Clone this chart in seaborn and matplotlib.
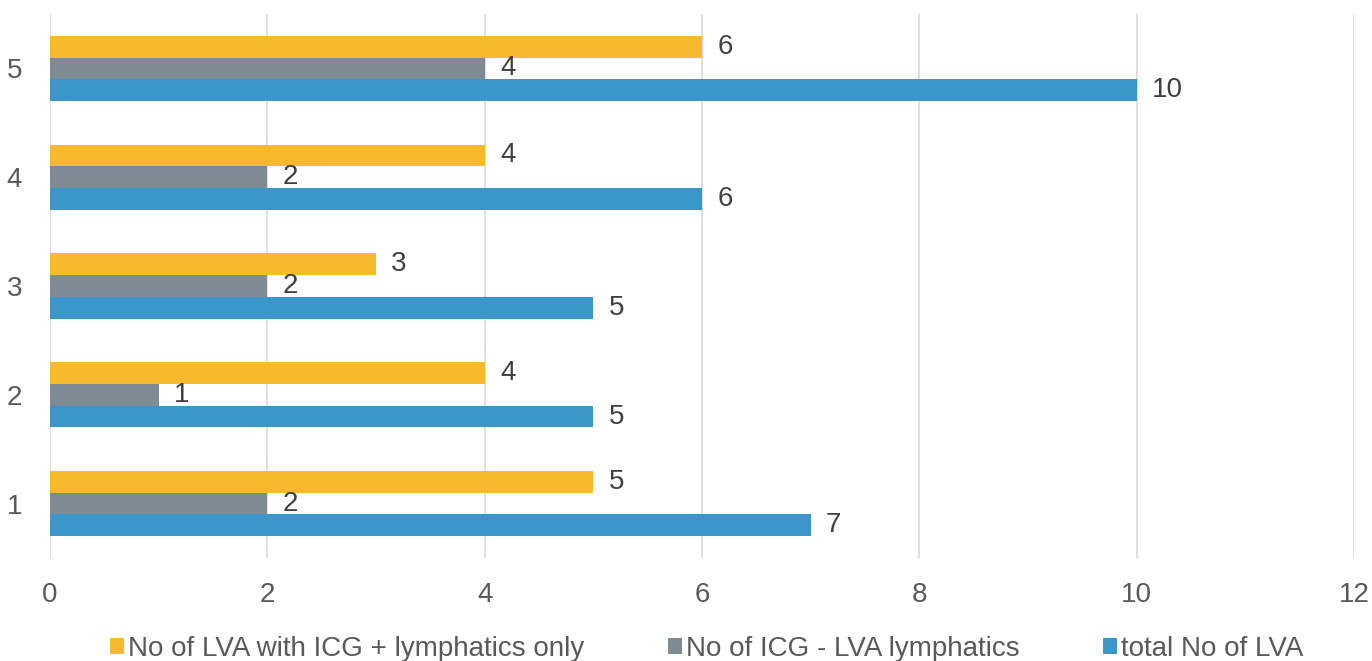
import matplotlib
matplotlib.use("Agg")
import matplotlib.pyplot as plt
import seaborn as sns
import pandas as pd
from matplotlib.patches import Patch

categories = ["1", "2", "3", "4", "5"]
series_names = ["No of LVA with ICG + lymphatics only", "No of ICG - LVA lymphatics", "total No of LVA"]
icg_plus = [5, 4, 3, 4, 6]
icg_minus = [2, 1, 2, 2, 4]
total_lva = [7, 5, 5, 6, 10]
x_ticks = [0, 2, 4, 6, 8, 10, 12]
colors = ["#F8B92F", "#7F8B93", "#3B97C9"]

rows = []
for name, vals in zip(series_names, [icg_plus, icg_minus, total_lva]):
    for c, v in zip(categories, vals):
        rows.append({"cat": c, "series": name, "value": v})
df = pd.DataFrame(rows)

sns.set_theme(style="white")
plt.rcParams["font.family"] = ["Liberation Sans", "DejaVu Sans"]

fig = plt.figure(figsize=(13.72, 6.61), dpi=100)
ax = fig.add_axes([50/1372, 1-558/661, (1354-50)/1372, (558-14)/661])

sns.barplot(data=df, y="cat", x="value", hue="series", orient="h",
            order=categories[::-1], hue_order=series_names,
            palette=colors, width=0.6, saturation=1, ax=ax, legend=False,
            edgecolor="none", linewidth=0)

for cont in ax.containers:
    ax.bar_label(cont, fmt="%g", padding=11, fontsize=20, color="#404040")

ax.set_xlim(0, 12)
ax.set_xticks(x_ticks)
ax.set_xticklabels([str(t) for t in x_ticks])
ax.set_ylim(4.5, -0.5)
ax.set_xlabel("")
ax.set_ylabel("")
ax.grid(axis="x", color="#D9D9D9", linewidth=1.2)
ax.set_axisbelow(True)
for s in ax.spines.values():
    s.set_visible(False)
ax.tick_params(axis="x", length=0, pad=17, labelsize=20, labelcolor="#595959")
ax.tick_params(axis="y", length=0, pad=20, labelsize=20, labelcolor="#595959")

handles = [Patch(facecolor=c, edgecolor="none") for c in colors]
fig.legend(handles, series_names, loc="center", bbox_to_anchor=(0.515, 0.018), ncol=3,
           frameon=False, fontsize=20, handlelength=0.5, handleheight=0.5,
           handletextpad=0.15, columnspacing=3.0, labelcolor="#595959")

fig.savefig("out.png", dpi=100)
